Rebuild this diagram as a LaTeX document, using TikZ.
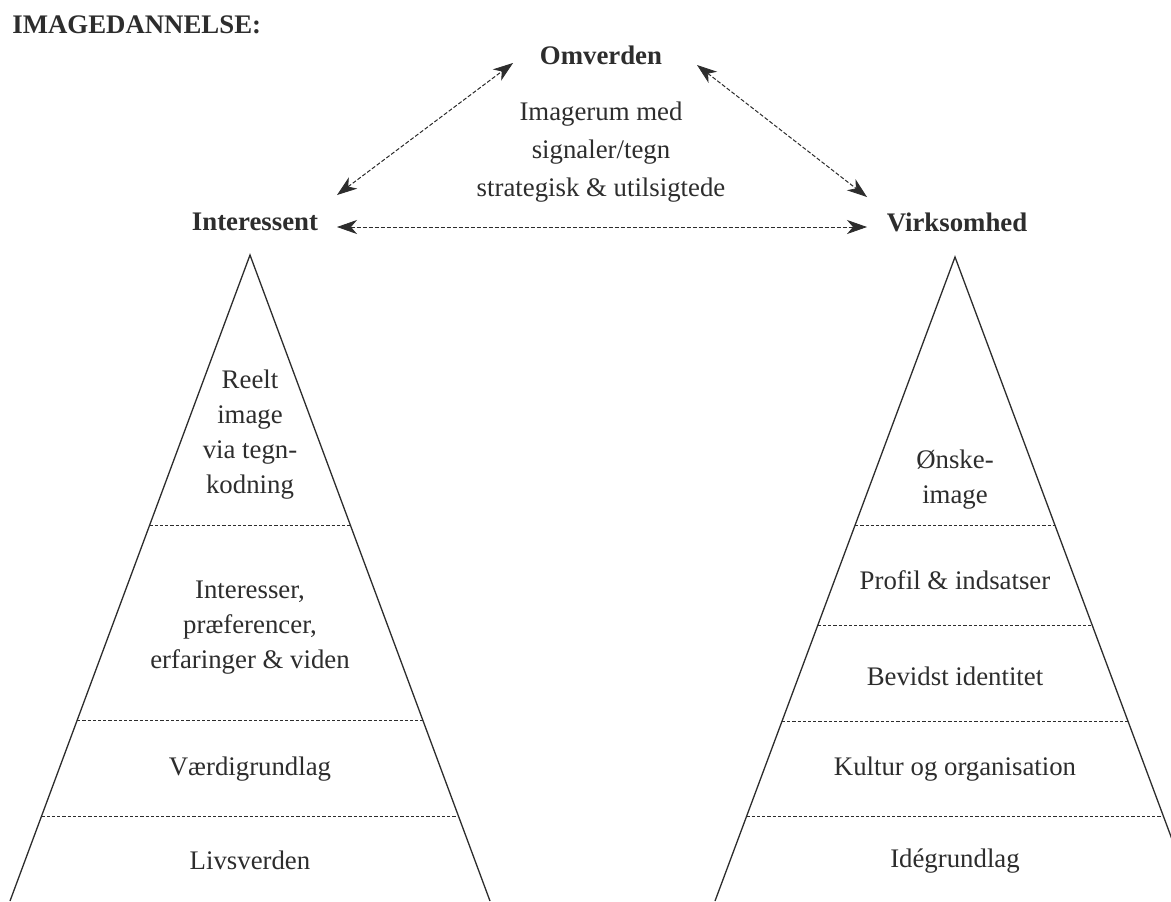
\documentclass[tikz,border=0pt]{standalone}
\usepackage{fontspec}
\setmainfont{Liberation Serif}
\usetikzlibrary{arrows.meta,calc}
\definecolor{ink}{RGB}{45,45,45}

\begin{document}
\begin{tikzpicture}[x=0.5pt, y=-0.5pt,
  every node/.style={inner sep=0pt, text=ink, font=\fontsize{13.4pt}{17.5pt}\selectfont},
  party/.style={font=\fontsize{13.4pt}{17.5pt}\selectfont\bfseries},
  layer/.style={align=center},
  frame/.style={draw=ink, line width=0.65pt},
  divider/.style={draw=ink, line width=0.5pt, dash pattern=on 1.6pt off 1pt},
  link/.style={draw=ink, line width=0.5pt, dash pattern=on 2pt off 1pt,
    {Stealth[length=10pt,width=7pt,inset=3pt,fill=ink,line width=0.4pt]}-{Stealth[length=10pt,width=7pt,inset=3pt,fill=ink,line width=0.4pt]}}]
\useasboundingbox (0,0) rectangle (1171,901);
\fill[white] (0,0) rectangle (1171,901);
\clip (0,0) rectangle (1171,901);

\node (title) at (12,25) [anchor=west, party] {IMAGEDANNELSE:};

\node (omverden) at (601,55) [party] {Omverden};
\node (interessent) at (255,222) [party] {Interessent};
\node (virksomhed) at (957,222) [party] {Virksomhed};
\node (imagerum) at (601,152) [layer, font=\fontsize{13.4pt}{18.8pt}\selectfont]
  {Imagerum med\\signaler/tegn\\strategisk \& utilsigtede};

\draw [link] ($(interessent)+(82,-27)$) -- ($(omverden)+(-88,8)$);
\draw [link] ($(omverden)+(96,10)$) -- ($(virksomhed)+(-90,-25)$);
\draw [link] ($(interessent)+(82,5)$) -- ($(virksomhed)+(-90,5)$);

% interessent pyramid
\coordinate (ltop) at (250,255);
\coordinate (lleft) at (10,901);
\coordinate (lright) at (490,901);
\draw [frame] (lleft) -- (ltop) -- (lright);
\foreach \y [evaluate=\y as \t using (\y-255)/646] in {525,720,816}
  \draw [divider] ($(ltop)!\t!(lleft)$) -- ($(ltop)!\t!(lright)$);

\node (reelt) at (250,435) [layer] {Reelt\\image\\via tegn-\\kodning};
\node (interesser) at (250,628) [layer] {Interesser,\\præferencer,\\erfaringer \& viden};
\node (vaerdi) at (250,769) {Værdigrundlag};
\node (livs) at (250,860) {Livsverden};

% virksomhed pyramid
\coordinate (rtop) at (955,257);
\coordinate (rleft) at (715,901);
\coordinate (rright) at (1195,901);
\draw [frame] (rleft) -- (rtop) -- (rright);
\foreach \y [evaluate=\y as \t using (\y-257)/644] in {525,625,721,816}
  \draw [divider] ($(rtop)!\t!(rleft)$) -- ($(rtop)!\t!(rright)$);

\node (onske) at (955,480) [layer] {Ønske-\\image};
\node (profil) at (955,580) {Profil \& indsatser};
\node (bevidst) at (955,676) {Bevidst identitet};
\node (kultur) at (955,769) {Kultur og organisation};
\node (idegrund) at (955,861) {Idégrundlag};
\end{tikzpicture}
\end{document}
